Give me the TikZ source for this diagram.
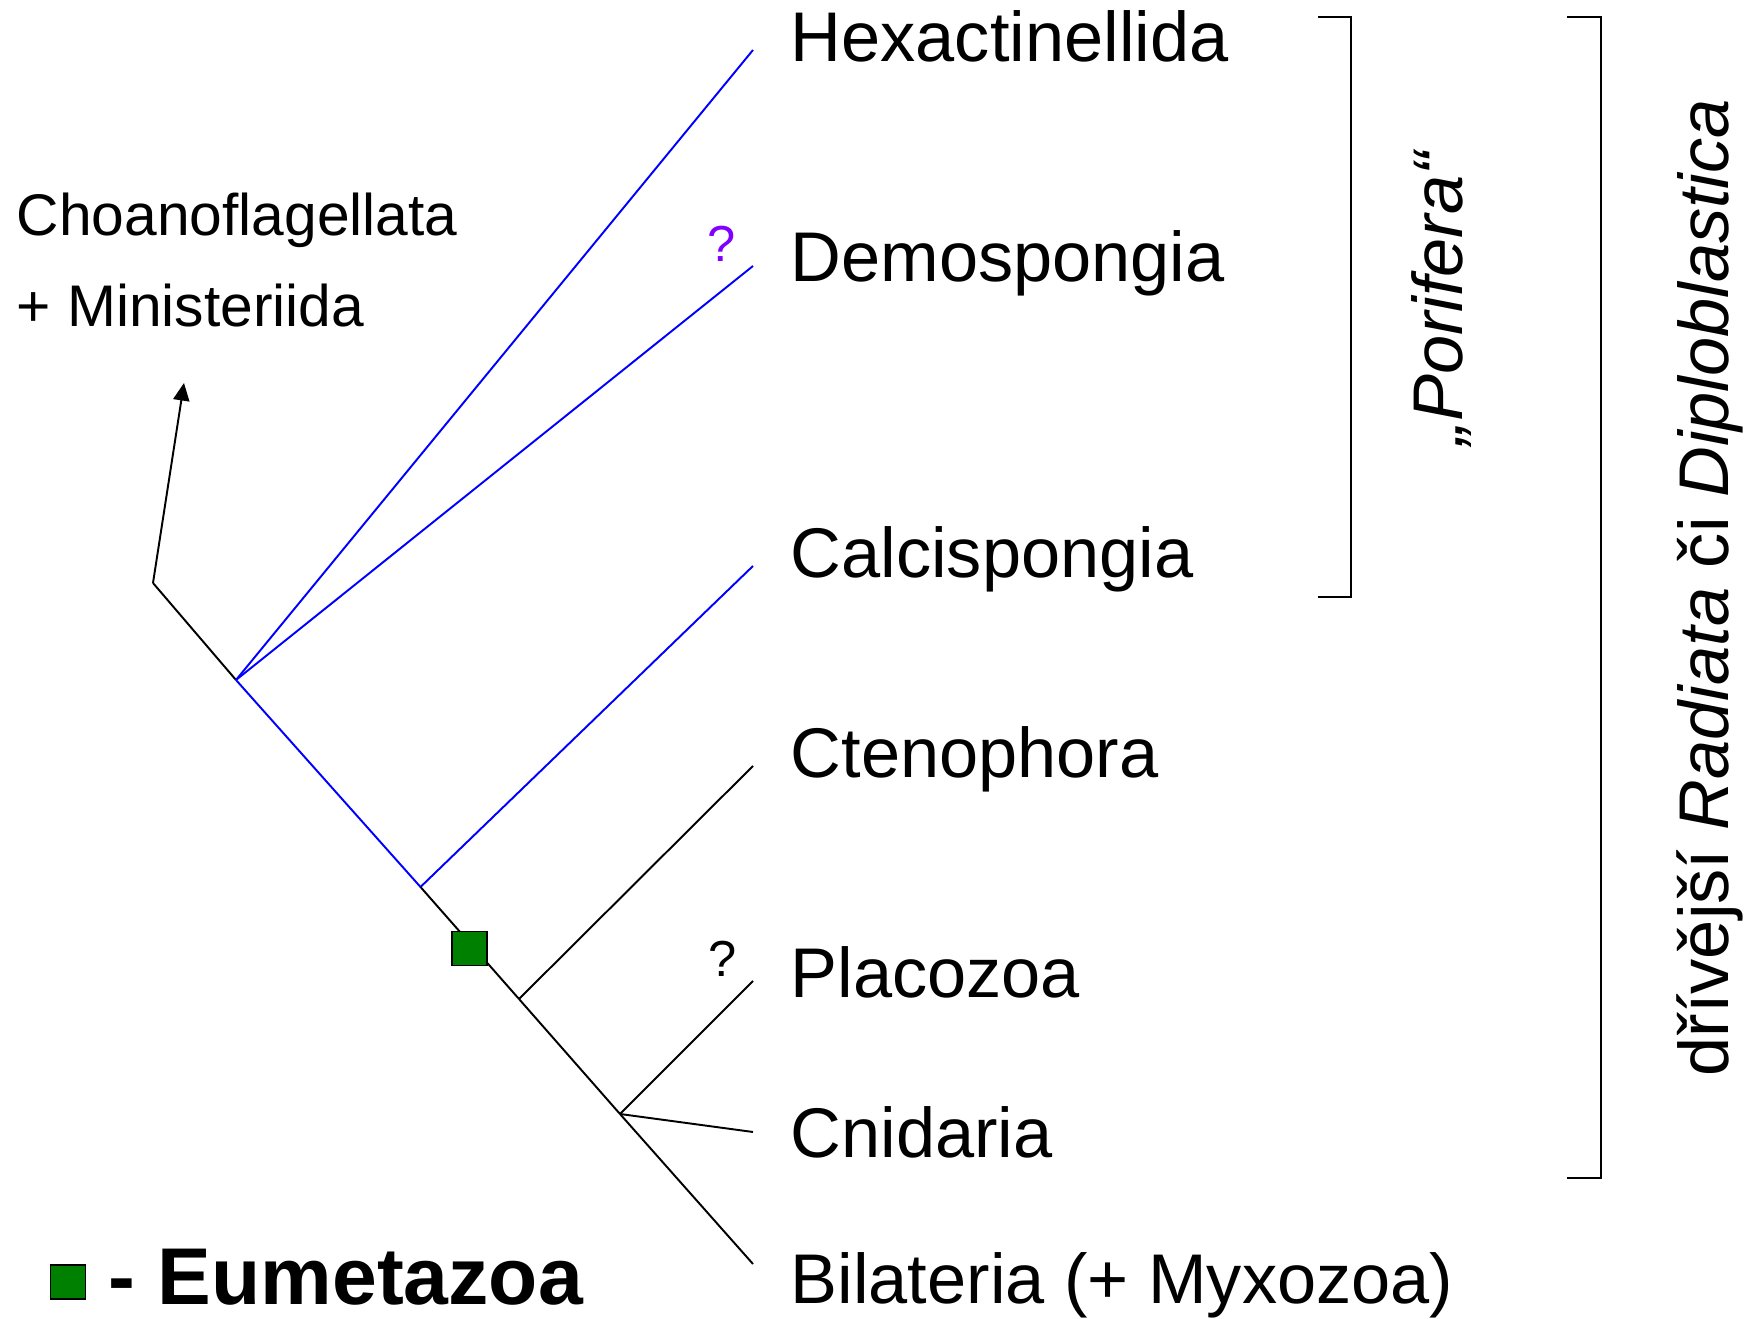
\documentclass[tikz,border=0pt]{standalone}
\usepackage{fontspec}
\setmainfont{Liberation Sans}
\usetikzlibrary{arrows.meta}
\definecolor{eumetgreen}{RGB}{0,128,0}
\definecolor{askviolet}{RGB}{128,0,255}
\tikzset{
	taxon/.style={anchor=base west, inner sep=0pt, font=\fontsize{20}{24}\selectfont},
	branch/.style={line width=0.55pt, color=black},
	sponge/.style={line width=0.55pt, color=blue},
	clade/.style={line width=0.6pt, color=black},
	askmark/.style={anchor=base west, inner sep=0pt, font=\fontsize{14.4}{17}\selectfont},
	eumetbox/.style={draw=black, line width=0.5pt, fill=eumetgreen, minimum width=0.35cm, minimum height=0.34cm, inner sep=0pt}
}

\begin{document}
\begin{tikzpicture}[x=0.01cm, y=-0.01cm]
		%%%%% START %%%%%
		\useasboundingbox (0, 0) rectangle (1747, 1319);
		
		% branch points on the trunk
		\coordinate (root) at (153, 583);
		\coordinate (porinode) at (236, 680);
		\coordinate (calcinode) at (420.5, 887);
		\coordinate (ctenonode) at (519, 999);
		\coordinate (cninode) at (620, 1114);
		\coordinate (choanotip) at (184, 383);
		
		% tips
		\coordinate (hexaend) at (753, 50);
		\coordinate (demoend) at (753, 266);
		\coordinate (calciend) at (753, 566);
		\coordinate (ctenoend) at (753, 766);
		\coordinate (placoend) at (753, 981);
		\coordinate (cnidend) at (753, 1132);
		\coordinate (bilaend) at (753, 1264);
		
		\draw[branch, -{Triangle[length=5pt, width=4.6pt]}] (root) -- (choanotip);
		\draw[branch] (root) -- (porinode);
		\draw[sponge] (porinode) -- (hexaend);
		\draw[sponge] (porinode) -- (demoend);
		\draw[sponge] (porinode) -- (calcinode);
		\draw[sponge] (calcinode) -- (calciend);
		\draw[branch] (calcinode) -- (ctenonode);
		\draw[branch] (ctenonode) -- (ctenoend);
		\draw[branch] (ctenonode) -- (cninode);
		\draw[branch] (cninode) -- (placoend);
		\draw[branch] (cninode) -- (cnidend);
		\draw[branch] (cninode) -- (bilaend);
		
		\node[eumetbox] (eumetmark) at (469.5, 948.5) {};
		
		% names
		\node[taxon] (hexa) at (790, 62) {Hexactinellida};
		\node[taxon] (demo) at (790, 282) {Demospongia};
		\node[taxon] (calci) at (790, 578) {Calcispongia};
		\node[taxon] (cteno) at (790, 778) {Ctenophora};
		\node[taxon] (placo) at (790, 998) {Placozoa};
		\node[taxon] (cnid) at (790, 1158) {Cnidaria};
		\node[taxon] (bila) at (790, 1304) {Bilateria (+ Myxozoa)};
		
		\node[askmark, color=askviolet] (askdemo) at (707, 262) {?};
		\node[askmark] (askplaco) at (708, 977) {?};
		
		\node[anchor=base west, inner sep=0pt, font=\fontsize{16.7}{20}\selectfont] (choano) at (16, 236) {Choanoflagellata};
		\node[anchor=base west, inner sep=0pt, font=\fontsize{16.7}{20}\selectfont] (minist) at (16, 327) {+ Ministeriida};
		
		% brackets
		\draw[clade] (1318, 17) -- (1351, 17) -- (1351, 597) -- (1318, 597);
		\draw[clade] (1567, 17) -- (1601, 17) -- (1601, 1178) -- (1567, 1178);
		\node[taxon, rotate=90] (porifera) at (1462, 446) {\textit{„Porifera“}};
		\node[taxon, rotate=90] (radiata) at (1728, 1077) {dřívější \textit{Radiata} či \textit{Diploblastica}};
		
		% legend
		\node[eumetbox] (legendmark) at (68, 1282) {};
		\node[anchor=base west, inner sep=0pt, font=\fontsize{22.9}{27}\selectfont\bfseries] (legendtext) at (108, 1305) {- Eumetazoa};
		
		%%%%% END %%%%%
	\end{tikzpicture}
\end{document}
